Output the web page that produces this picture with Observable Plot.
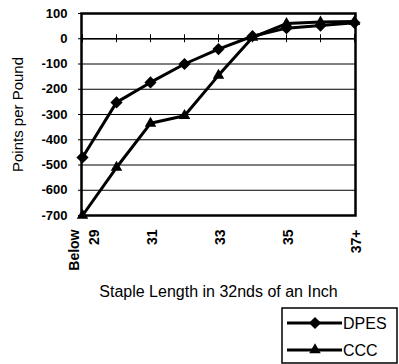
<!DOCTYPE html>
<html><head><meta charset="utf-8">
<script src="https://cdn.jsdelivr.net/npm/d3@7"></script>
<script src="https://cdn.jsdelivr.net/npm/@observablehq/plot@0.6"></script>
<style>
body{margin:0;background:#fff;}
#chart{position:relative;width:399px;height:364px;font-family:"Liberation Sans",Arial,sans-serif;}
</style></head><body><div id="chart"></div>
<script>
const categories = ["Below\n29","30","31","32","33","34","35","36","37+"];
const labeledCategories = ["Below\n29","31","33","35","37+"];
const dpes = [-470,-252,-173,-100,-41,10,42,52,63];
const ccc = [-700,-510,-335,-305,-145,5,60,66,68];
const yTicks = [100,0,-100,-200,-300,-400,-500,-600,-700];
const seriesNames = ["DPES","CCC"];
const seriesSymbols = ["diamond2","triangle2"];

const data = [
  ...categories.map((c,i)=>({cat:c, v:dpes[i], s:"DPES"})),
  ...categories.map((c,i)=>({cat:c, v:ccc[i], s:"CCC"}))
];

const font = '"Liberation Sans",Arial,sans-serif';
const chart = Plot.plot({
  width:399, height:364,
  marginLeft:81, marginRight:44, marginTop:13, marginBottom:149,
  style:{fontFamily:font, fontSize:"13px", color:"#000", background:"#fff", overflow:"visible"},
  x:{type:"point", domain:categories, padding:0},
  y:{domain:[-700,100]},
  symbol:{domain:seriesNames, range:seriesSymbols},
  marks:[
    Plot.gridY(yTicks,{stroke:"#000", strokeOpacity:1, strokeWidth:1}),
    Plot.axisY(yTicks,{tickSize:3, tickPadding:11, fontWeight:"bold", fontSize:13, label:null, tickFormat:d=>String(d)}),
    Plot.axisY({ticks:[], label:"Points per Pound", labelArrow:"none", labelAnchor:"center", labelOffset:69, fontSize:15}),
    Plot.axisX(labeledCategories,{tickSize:0, tickRotate:-90, tickPadding:14, fontWeight:"bold", fontSize:14, lineHeight:1.45, label:null}),
    Plot.axisX({ticks:[], label:"Staple Length in 32nds of an Inch", labelArrow:"none", labelAnchor:"center", labelOffset:81, fontSize:16}),
    Plot.ruleY([0],{stroke:"#000", strokeWidth:1.5}),
    Plot.ruleX(categories,{x:d=>d, y1:0, y2:0, insetTop:-4, insetBottom:-4, stroke:"#000"}),
    Plot.frame({stroke:"#000", strokeWidth:2.5}),
    Plot.line(data,{x:"cat", y:"v", z:"s", stroke:"#000", strokeWidth:3}),
    Plot.dot(data,{x:"cat", y:"v", symbol:"s", fill:"#000", stroke:"none", r:5.5})
  ]
});
const root = document.getElementById("chart");
root.appendChild(chart);

// Legend
const lg = d3.create("svg").attr("width",118).attr("height",57)
  .style("position","absolute").style("left","281px").style("top","307px");
lg.append("rect").attr("x",1).attr("y",1).attr("width",115).attr("height",55)
  .attr("fill","#fff").attr("stroke","#000").attr("stroke-width",1.5);
const sym = d3.scaleOrdinal(seriesNames, [d3.symbolDiamond2, d3.symbolTriangle2]);
seriesNames.forEach((name,i)=>{
  const y = 16 + i*27;
  lg.append("line").attr("x1",6).attr("x2",61).attr("y1",y).attr("y2",y)
    .attr("stroke","#000").attr("stroke-width",3);
  lg.append("path").attr("d", d3.symbol(sym(name), 95)()).attr("transform",`translate(34,${y})`).attr("fill","#000");
  lg.append("text").attr("x",62).attr("y",y).attr("dy","0.35em").attr("font-size",16)
    .attr("font-family",font).text(name);
});
root.appendChild(lg.node());
</script></body></html>
